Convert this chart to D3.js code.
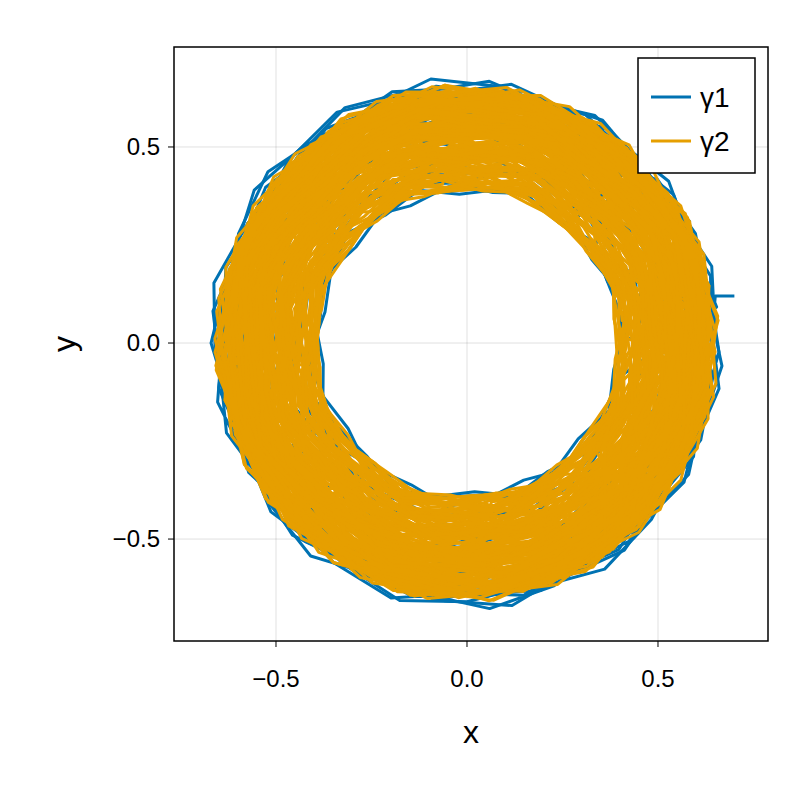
<!DOCTYPE html>
<html><head><meta charset="utf-8">
<script src="https://cdn.jsdelivr.net/npm/d3@7"></script>
<style>body{margin:0;background:#fff}</style></head>
<body><svg id="c" width="800" height="800"></svg>
<script>
const xTicks=[-0.5,0.0,0.5], yTicks=[-0.5,0.0,0.5];
const tickLabels=["−0.5","0.0","0.5"];
const seriesNames=["γ1","γ2"];
const angleOffsets=[0,5,10,3,8,12,2,7,11,4,9,1,6,13,14,0];
const rot1=[0,20,47], rot2=[0,4,9,13,50,95,140,185,230,275,320];
const loops1=[
[0.64,0.66,0.63,0.65,0.67,0.64,0.62,0.65,0.68,0.66,0.63,0.65,0.67,0.64,0.66,0.63,0.65,0.68,0.66,0.64,0.62,0.65,0.67,0.64],
[0.45,0.47,0.44,0.46,0.48,0.45,0.43,0.46,0.44,0.47,0.45,0.43,0.46,0.48,0.45,0.44,0.47,0.45,0.43,0.46,0.44,0.47,0.45,0.46],
[0.60,0.58,0.61,0.59,0.62,0.60,0.57,0.61,0.59,0.62,0.60,0.58,0.61,0.63,0.59,0.60,0.62,0.58,0.61,0.59,0.62,0.60,0.58,0.61],
[0.40,0.42,0.39,0.41,0.43,0.40,0.38,0.41,0.39,0.42,0.40,0.38,0.41,0.43,0.40,0.39,0.42,0.40,0.38,0.41,0.39,0.42,0.40,0.41],
[0.66,0.64,0.67,0.65,0.63,0.66,0.68,0.65,0.63,0.66,0.64,0.67,0.65,0.63,0.66,0.68,0.64,0.66,0.63,0.65,0.67,0.64,0.66,0.65],
[0.52,0.54,0.50,0.53,0.55,0.51,0.49,0.53,0.51,0.54,0.52,0.50,0.53,0.55,0.52,0.50,0.54,0.51,0.49,0.53,0.51,0.54,0.52,0.53],
[0.62,0.65,0.63,0.61,0.64,0.66,0.63,0.61,0.64,0.62,0.65,0.63,0.60,0.64,0.62,0.65,0.63,0.61,0.64,0.66,0.62,0.64,0.61,0.63],
[0.56,0.55,0.58,0.56,0.54,0.57,0.59,0.56,0.54,0.57,0.55,0.58,0.56,0.54,0.57,0.55,0.58,0.56,0.54,0.57,0.55,0.58,0.56,0.57]];
const loops2=[
[0.62,0.60,0.63,0.61,0.64,0.62,0.60,0.63,0.65,0.62,0.60,0.63,0.61,0.64,0.62,0.66,0.63,0.61,0.64,0.62,0.60,0.63,0.61,0.63],
[0.44,0.46,0.43,0.45,0.47,0.44,0.42,0.45,0.43,0.46,0.44,0.42,0.45,0.47,0.44,0.43,0.46,0.44,0.42,0.45,0.43,0.46,0.44,0.45],
[0.56,0.58,0.55,0.57,0.59,0.56,0.54,0.57,0.55,0.58,0.56,0.54,0.57,0.59,0.56,0.55,0.58,0.56,0.54,0.57,0.55,0.58,0.56,0.57],
[0.50,0.48,0.51,0.49,0.52,0.50,0.47,0.51,0.49,0.52,0.50,0.48,0.51,0.53,0.49,0.50,0.52,0.48,0.51,0.49,0.52,0.50,0.48,0.51],
[0.64,0.66,0.63,0.65,0.62,0.64,0.66,0.63,0.61,0.65,0.63,0.66,0.64,0.62,0.65,0.63,0.66,0.64,0.62,0.65,0.63,0.61,0.64,0.63],
[0.53,0.55,0.52,0.54,0.56,0.53,0.51,0.54,0.52,0.55,0.53,0.51,0.54,0.56,0.53,0.52,0.55,0.53,0.51,0.54,0.52,0.55,0.53,0.54],
[0.41,0.43,0.40,0.42,0.44,0.41,0.39,0.42,0.40,0.43,0.41,0.39,0.42,0.44,0.41,0.40,0.43,0.41,0.39,0.42,0.40,0.43,0.41,0.42],
[0.59,0.57,0.60,0.58,0.61,0.59,0.56,0.60,0.58,0.61,0.59,0.57,0.60,0.62,0.58,0.59,0.61,0.57,0.60,0.58,0.61,0.59,0.57,0.60],
[0.47,0.49,0.46,0.48,0.50,0.47,0.45,0.48,0.46,0.49,0.47,0.45,0.48,0.50,0.47,0.46,0.49,0.47,0.45,0.48,0.46,0.49,0.47,0.48],
[0.61,0.63,0.60,0.62,0.64,0.61,0.59,0.62,0.60,0.63,0.61,0.59,0.62,0.64,0.61,0.60,0.63,0.61,0.59,0.62,0.60,0.63,0.61,0.62],
[0.54,0.52,0.55,0.53,0.56,0.54,0.51,0.55,0.53,0.56,0.54,0.52,0.55,0.57,0.53,0.54,0.56,0.52,0.55,0.53,0.56,0.54,0.52,0.55],
[0.45,0.42,0.40,0.39,0.41,0.44,0.47,0.50,0.48,0.45,0.43,0.41,0.40,0.42,0.45,0.48,0.46,0.44,0.42,0.40,0.41,0.43,0.46,0.45],
[0.58,0.60,0.57,0.59,0.61,0.58,0.56,0.59,0.57,0.60,0.58,0.56,0.59,0.61,0.58,0.57,0.60,0.58,0.56,0.59,0.57,0.60,0.58,0.59],
[0.63,0.61,0.64,0.62,0.65,0.63,0.60,0.64,0.62,0.65,0.63,0.61,0.64,0.66,0.62,0.63,0.65,0.61,0.64,0.62,0.65,0.63,0.61,0.64],
[0.49,0.51,0.48,0.50,0.52,0.49,0.47,0.50,0.48,0.51,0.49,0.47,0.50,0.52,0.49,0.48,0.51,0.49,0.47,0.50,0.48,0.51,0.49,0.50],
[0.55,0.57,0.54,0.56,0.58,0.55,0.53,0.56,0.54,0.57,0.55,0.53,0.56,0.58,0.55,0.54,0.57,0.55,0.53,0.56,0.54,0.57,0.55,0.56]];
const start1=[[0.70,0.12],[0.65,0.12]];
const colors=["#0072B2","#E69F00"];

const svg=d3.select("#c");
const L=174,R=768,T=47,B=641;
const x=d3.scaleLinear().domain([-0.767,0.788]).range([L,R]);
const y=d3.scaleLinear().domain([-0.760,0.755]).range([B,T]);
const font="'Liberation Sans',Arial,sans-serif";
xTicks.forEach(t=>svg.append("line").attr("x1",x(t)).attr("x2",x(t)).attr("y1",T).attr("y2",B).attr("stroke","#000").attr("stroke-opacity",0.12));
yTicks.forEach(t=>svg.append("line").attr("y1",y(t)).attr("y2",y(t)).attr("x1",L).attr("x2",R).attr("stroke","#000").attr("stroke-opacity",0.12));
function pts(loops,rot,pre){
  const p=pre?pre.slice():[];
  loops.forEach((lp,i)=>lp.forEach((r,j)=>{const a=(j*15+angleOffsets[i%angleOffsets.length]+rot)*Math.PI/180;p.push([r*Math.cos(a),r*Math.sin(a)]);}));
  return p;
}
const line=d3.line().x(d=>x(d[0])).y(d=>y(d[1]));
const g=svg.append("g");
rot1.forEach((r,k)=>g.append("path").attr("d",line(pts(loops1,r,k===0?start1:null))).attr("fill","none").attr("stroke",colors[0]).attr("stroke-width",3).attr("stroke-linejoin","round"));
rot2.forEach((r,k)=>g.append("path").attr("d",line(pts(k%2?loops2.slice().reverse():loops2,r))).attr("fill","none").attr("stroke",colors[1]).attr("stroke-width",3).attr("stroke-linejoin","round"));
svg.append("rect").attr("x",L).attr("y",T).attr("width",R-L).attr("height",B-T).attr("fill","none").attr("stroke","#000").attr("stroke-width",1.5);
xTicks.forEach((t,i)=>{svg.append("line").attr("x1",x(t)).attr("x2",x(t)).attr("y1",B).attr("y2",B+6).attr("stroke","#000");
 svg.append("text").attr("x",x(t)).attr("y",B+46).attr("text-anchor","middle").attr("font-family",font).attr("font-size",24).text(tickLabels[i]);});
yTicks.forEach((t,i)=>{svg.append("line").attr("x1",L-6).attr("x2",L).attr("y1",y(t)).attr("y2",y(t)).attr("stroke","#000");
 svg.append("text").attr("x",L-14).attr("y",y(t)+8).attr("text-anchor","end").attr("font-family",font).attr("font-size",24).text(tickLabels[i]);});
svg.append("text").attr("x",(L+R)/2).attr("y",743).attr("text-anchor","middle").attr("font-family",font).attr("font-size",32).text("x");
svg.append("text").attr("transform",`translate(75,${(T+B)/2}) rotate(-90)`).attr("text-anchor","middle").attr("font-family",font).attr("font-size",32).text("y");
svg.append("rect").attr("x",638).attr("y",58).attr("width",117).attr("height",115).attr("fill","#fff").attr("stroke","#000").attr("stroke-width",1.5);
seriesNames.forEach((n,i)=>{const yy=97+i*44;
 svg.append("line").attr("x1",651).attr("x2",691).attr("y1",yy).attr("y2",yy).attr("stroke",colors[i]).attr("stroke-width",3);
 svg.append("text").attr("x",700).attr("y",yy+10).attr("font-family",font).attr("font-size",28).text(n);});
</script></body></html>
